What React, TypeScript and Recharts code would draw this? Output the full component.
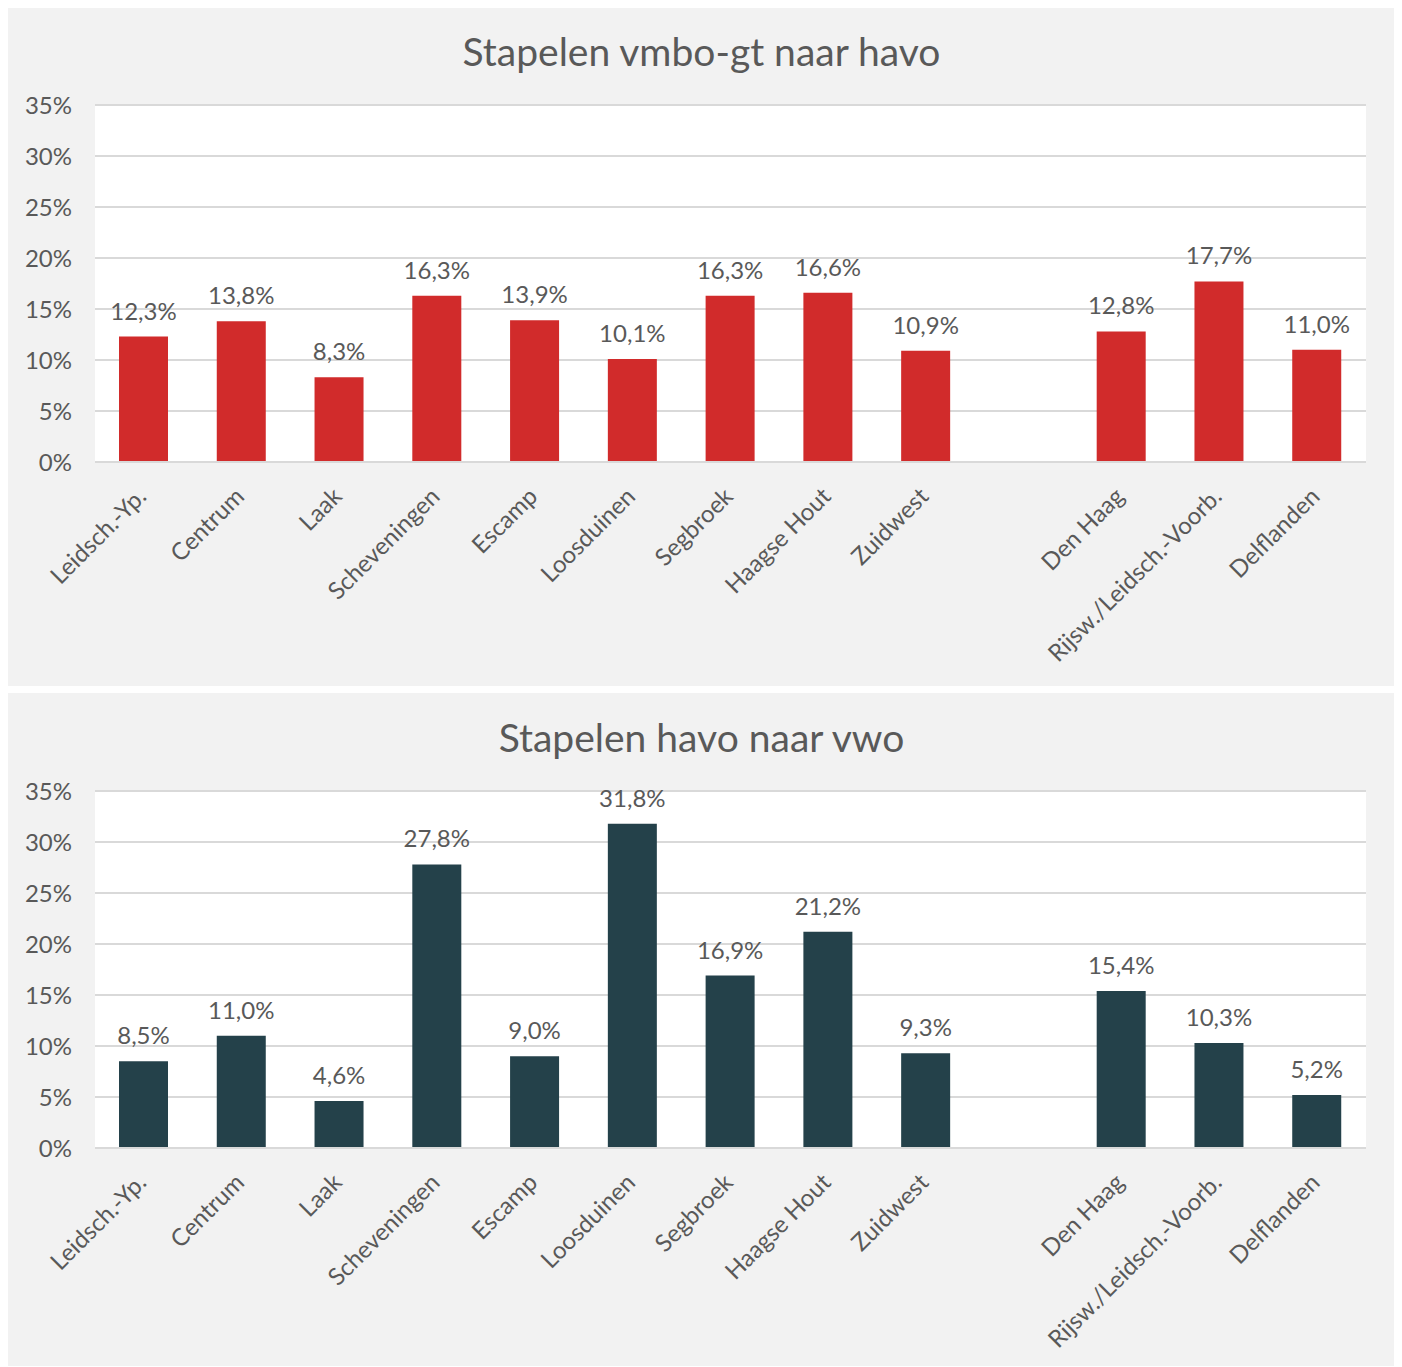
import React from 'react'
import { BarChart, Bar, XAxis, YAxis, CartesianGrid, LabelList } from 'recharts'

const categories = [
  'Leidsch.-Yp.', 'Centrum', 'Laak', 'Scheveningen', 'Escamp', 'Loosduinen',
  'Segbroek', 'Haagse Hout', 'Zuidwest', '', 'Den Haag', 'Rijsw./Leidsch.-Voorb.', 'Delflanden',
]
const vmboHavo = [12.3, 13.8, 8.3, 16.3, 13.9, 10.1, 16.3, 16.6, 10.9, null, 12.8, 17.7, 11.0]
const havoVwo = [8.5, 11.0, 4.6, 27.8, 9.0, 31.8, 16.9, 21.2, 9.3, null, 15.4, 10.3, 5.2]
const yTicks = [0, 5, 10, 15, 20, 25, 30, 35]

const FONT = 'Lato, "Noto Sans", sans-serif'
const TEXT = '#595959'

const fmt = (v: any) => (v == null ? '' : Number(v).toFixed(1).replace('.', ',') + '%')

function XTick({ x, y, payload }: any) {
  return (
    <text
      transform={`translate(${x + 4},${y + 28}) rotate(-45)`}
      textAnchor="end"
      fontSize={24}
      fontFamily={FONT}
      fill={TEXT}
    >
      {payload.value}
    </text>
  )
}

function Panel({ title, values, color, height, top }: { title: string; values: Array<number | null>; color: string; height: number; top: number }) {
  const data = categories.map((c, i) => ({ name: c, value: values[i] }))
  const plotTop = 98
  const plotH = 357
  return (
    <div style={{ position: 'absolute', left: -1, top, width: 1389, height, background: '#f2f2f2' }}>
      <div style={{ position: 'absolute', top: 21, left: 0, width: 1389, textAlign: 'center', fontFamily: FONT, fontSize: 39, color: TEXT }}>
        {title}
      </div>
      <BarChart
        width={1389}
        height={height}
        data={data}
        margin={{ top: plotTop, right: 30, left: 0, bottom: 0 }}
        barSize={49}
        style={{ position: 'absolute', left: 0, top: 0 }}
      >
        <CartesianGrid vertical={false} stroke="#d9d9d9" strokeWidth={2} fill="#ffffff" />
        <XAxis
          dataKey="name"
          interval={0}
          height={height - plotTop - plotH}
          tick={<XTick />}
          tickLine={false}
          axisLine={{ stroke: '#d9d9d9', strokeWidth: 2 }}
        />
        <YAxis
          width={88}
          domain={[0, 35]}
          ticks={yTicks}
          tickFormatter={(v: number) => v + '%'}
          tickLine={false}
          axisLine={false}
          tickSize={0}
          tickMargin={23}
          tick={{ fontSize: 24, fontFamily: FONT, fill: TEXT }}
        />
        <Bar dataKey="value" fill={color} isAnimationActive={false}>
          <LabelList dataKey="value" position="top" offset={17} formatter={fmt} style={{ fontSize: 24, fontFamily: FONT, fill: TEXT }} />
        </Bar>
      </BarChart>
    </div>
  )
}

export default function App() {
  return (
    <div style={{ position: 'relative', width: 1402, height: 1367 }}>
      <Panel title="Stapelen vmbo-gt naar havo" values={vmboHavo} color="#d12b2b" height={679} top={-1} />
      <Panel title="Stapelen havo naar vwo" values={havoVwo} color="#24414a" height={673} top={685} />
    </div>
  )
}
